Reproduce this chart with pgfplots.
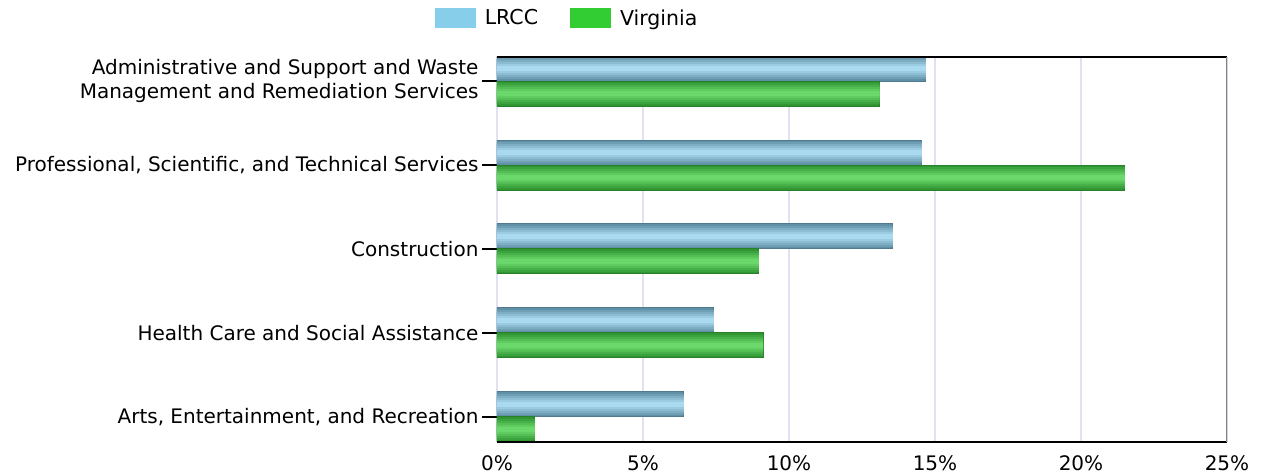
\documentclass[border=0pt]{standalone}
\usepackage{pgfplots}
\usepackage{pgfplotstable}
\pgfplotsset{compat=1.18}
\usepackage{fontspec}
\setmainfont{DejaVu Sans}

\definecolor{lrcc}{HTML}{87CEEB}
\definecolor{virg}{HTML}{32CD32}
\definecolor{lrccdark}{HTML}{5F90A6}
\definecolor{lrcclight}{HTML}{A9DAEF}
\definecolor{virgdark}{HTML}{2F9632}
\definecolor{virglight}{HTML}{6BD86B}
\definecolor{gridc}{HTML}{E1E1F2}

% value, category (0 = bottom)
\pgfplotstableread{
x    y
6.4  0
7.43 1
13.56 2
14.55 3
14.69 4
}\lrccdata
\pgfplotstableread{
x    y
1.3  0
9.11 1
8.97 2
21.5 3
13.1 4
}\virgdata

% bar drawn as nested bars, dark at the edges and light in the middle
\newcommand{\gradbar}[5]{%
  \addplot[fill=#3, draw=#3!85!black, line width=1pt, bar shift=#2, bar width=25pt,
    legend image code/.code={\fill[#5] (0pt,-9.5pt) rectangle (40pt,9.5pt);}]
    table[x=x,y=y] {#1};
  \addplot[forget plot, fill=#4!20!#3, draw=none, bar shift=#2, bar width=21pt] table[x=x,y=y] {#1};
  \addplot[forget plot, fill=#4!40!#3, draw=none, bar shift=#2, bar width=17pt] table[x=x,y=y] {#1};
  \addplot[forget plot, fill=#4!60!#3, draw=none, bar shift=#2, bar width=13pt] table[x=x,y=y] {#1};
  \addplot[forget plot, fill=#4!80!#3, draw=none, bar shift=#2, bar width=9pt] table[x=x,y=y] {#1};
  \addplot[forget plot, fill=#4, draw=none, bar shift=#2, bar width=5pt] table[x=x,y=y] {#1};
}

\begin{document}
\begin{tikzpicture}
\path[use as bounding box] (-497pt,-32pt) rectangle (766pt,442pt);
\begin{axis}[
    at={(0pt,0pt)}, anchor=south west,
    scale only axis,
    width=730pt, height=385pt,
    xbar,
    xmin=0, xmax=25,
    ymin=-0.298, ymax=4.286,
    xtick={0,5,...,25},
    xticklabel={\pgfmathprintnumber{\tick}\%},
    /pgf/number format/assume math mode=true,
    ytick={0,1,2,3,4},
    yticklabels={
        {Arts, Entertainment, and Recreation},
        {Health Care and Social Assistance},
        {Construction},
        {Professional, Scientific, and Technical Services},
        {Administrative and Support and Waste\\Management and Remediation Services}},
    yticklabel style={align=right, font=\fontsize{20}{24}\selectfont},
    xticklabel style={font=\fontsize{20}{24}\selectfont, yshift=5pt},
    ytick pos=left,
    tick align=outside,
    major tick length=15pt,
    ytick style={black, line width=1.5pt},
    xtick style={draw=none},
    xmajorgrids,
    grid style={gridc, line width=1.5pt},
    axis line style={draw=none},
    legend style={at={(0.096,1.101)}, anchor=center, draw=none,
        legend columns=2, font=\fontsize{20.5}{24}\selectfont,
        /tikz/every odd column/.append style={column sep=7pt},
        /tikz/every even column/.append style={column sep=30pt}},
    legend cell align=left,
]
\gradbar{\lrccdata}{12.5pt}{lrccdark}{lrcclight}{lrcc}
\gradbar{\virgdata}{-12.5pt}{virgdark}{virglight}{virg}
\legend{LRCC, Virginia}
\draw[black, line width=2pt] (rel axis cs:0,1) -- (rel axis cs:1,1);
\draw[black, line width=2pt] (rel axis cs:0,0) -- (rel axis cs:1,0);
\draw[gray, line width=1.5pt] (rel axis cs:1,0) -- (rel axis cs:1,1);
\end{axis}
\end{tikzpicture}
\end{document}
